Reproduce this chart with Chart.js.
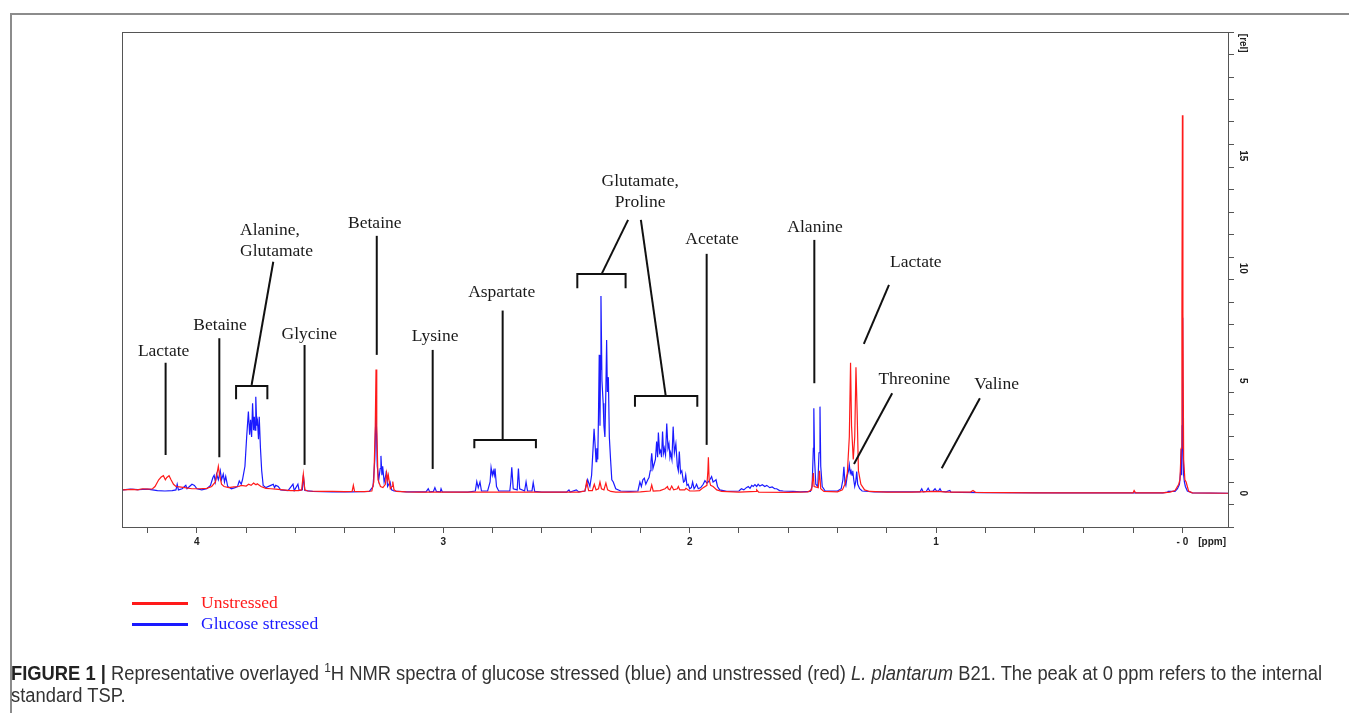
<!DOCTYPE html>
<html>
<head>
<meta charset="utf-8">
<script src="https://cdn.jsdelivr.net/npm/chart.js@4"></script>
<style>
  body { margin: 0; background: #fff; }
  #wrap { position: relative; width: 1349px; height: 713px; overflow: hidden; }
  #frame { position: absolute; left: 10px; top: 13px; right: -5px; bottom: -5px;
           border-top: 2px solid #8c8c8c; border-left: 2px solid #8c8c8c; }
  canvas { position: absolute; left: 0; top: 0; }
  #legend { position: absolute; left: 132px; top: 592px; font: 17.5px "Liberation Serif", "Times New Roman", serif; }
  #legend div { height: 21px; line-height: 21px; white-space: nowrap; }
  #legend span.sw { display: inline-block; width: 56px; height: 3px; vertical-align: middle; margin-right: 13px; }
  #caption { position: absolute; left: 11px; top: 657px; color: #333; white-space: nowrap; transform-origin: 0 0;
             font: 20px/22px "Liberation Sans", Arial, sans-serif; }
  #caption b { color: #222; }
</style>
</head>
<body>
<div id="wrap">
  <div id="frame"></div>
  <canvas id="nmr" width="1349" height="713"></canvas>
  <div id="legend"></div>
  <div id="caption"><span id="cap1"><b>FIGURE 1 |</b> Representative overlayed <sup style="font-size:13px">1</sup>H NMR spectra of glucose stressed (blue) and unstressed (red) <i>L. plantarum</i> B21. The peak at 0 ppm refers to the internal</span><br>standard TSP.</div>
</div>
<script>
// unstressed (red) spectrum, chemical shift [ppm] and intensity [rel]
const unstressedPpm = [
  4.30, 4.26, 4.24, 4.22, 4.20, 4.18, 4.17, 4.155, 4.145, 4.136, 4.128, 4.122, 4.113, 4.105, 4.095, 4.085,
  4.07, 4.05, 4.02, 3.99, 3.96, 3.94, 3.925, 3.918, 3.913, 3.908, 3.90, 3.89, 3.87, 3.85, 3.83, 3.82,
  3.80, 3.79, 3.78, 3.77, 3.76, 3.755, 3.74, 3.72, 3.70, 3.68, 3.65, 3.62, 3.59, 3.575, 3.568, 3.562,
  3.55, 3.50, 3.45, 3.40, 3.37, 3.365, 3.36, 3.32, 3.29, 3.282, 3.276, 3.273, 3.27, 3.265, 3.255, 3.245,
  3.235, 3.23, 3.226, 3.223, 3.215, 3.208, 3.205, 3.20, 3.19, 3.15, 3.10, 2.90, 2.70, 2.45, 2.425, 2.418,
  2.41, 2.395, 2.387, 2.38, 2.37, 2.364, 2.358, 2.348, 2.34, 2.333, 2.32, 2.30, 2.25, 2.20, 2.16, 2.154,
  2.148, 2.12, 2.10, 2.09, 2.087, 2.08, 2.073, 2.065, 2.05, 2.046, 2.04, 2.02, 2.015, 2.00, 1.98, 1.96,
  1.945, 1.93, 1.926, 1.924, 1.921, 1.915, 1.905, 1.89, 1.87, 1.80, 1.73, 1.728, 1.72, 1.60, 1.52, 1.505,
  1.498, 1.495, 1.478, 1.473, 1.468, 1.455, 1.40, 1.38, 1.37, 1.36, 1.352, 1.347, 1.343, 1.336, 1.330, 1.325,
  1.320, 1.315, 1.305, 1.29, 1.27, 1.20, 1.10, 1.00, 0.95, 0.86, 0.85, 0.84, 0.60, 0.20, 0.196, 0.19,
  0.08, 0.05, 0.03, 0.015, 0.01, 0.005, 0.002, 0.0, -0.002, -0.005, -0.01, -0.015, -0.025, -0.04, -0.185
]
const unstressedRel = [
  0.15, 0.17, 0.15, 0.2, 0.18, 0.2, 0.3, 0.6, 0.72, 0.78, 0.6, 0.7, 0.78, 0.6, 0.4, 0.3,
  0.28, 0.25, 0.2, 0.2, 0.22, 0.3, 0.5, 0.9, 1.2, 0.8, 0.4, 0.3, 0.25, 0.28, 0.3, 0.35,
  0.32, 0.4, 0.35, 0.45, 0.38, 0.42, 0.3, 0.22, 0.2, 0.18, 0.15, 0.12, 0.12, 0.15, 0.85, 0.15,
  0.1, 0.08, 0.08, 0.07, 0.08, 0.35, 0.08, 0.07, 0.1, 0.5, 3.0, 5.5, 3.0, 0.6, 0.3, 0.25,
  0.4, 0.9, 0.6, 0.8, 0.2, 0.3, 0.52, 0.15, 0.08, 0.06, 0.05, 0.05, 0.05, 0.05, 0.1, 0.52,
  0.12, 0.12, 0.4, 0.15, 0.2, 0.5, 0.2, 0.15, 0.45, 0.15, 0.08, 0.05, 0.05, 0.06, 0.1, 0.37,
  0.1, 0.12, 0.2, 0.3, 0.2, 0.15, 0.32, 0.15, 0.2, 0.3, 0.15, 0.15, 0.22, 0.1, 0.1, 0.12,
  0.25, 0.35, 1.0, 1.6, 0.6, 0.35, 0.3, 0.15, 0.08, 0.05, 0.08, 0.15, 0.05, 0.04, 0.06, 0.15,
  0.9, 0.3, 0.25, 1.0, 0.2, 0.08, 0.06, 0.15, 0.4, 0.9, 2.5, 5.8, 3.0, 1.5, 2.5, 5.6,
  3.5, 1.0, 0.4, 0.15, 0.08, 0.05, 0.05, 0.08, 0.05, 0.05, 0.12, 0.04, 0.02, 0.02, 0.12, 0.02,
  0.02, 0.05, 0.12, 0.4, 0.6, 2.0, 8.0, 16.8, 8.0, 1.5, 0.6, 0.5, 0.1, 0.02, 0.0
]

// glucose stressed (blue) spectrum
const stressedPpm = [
  4.30, 4.27, 4.24, 4.20, 4.16, 4.13, 4.10, 4.085, 4.08, 4.075, 4.06, 4.045, 4.04, 4.03, 4.02, 4.01,
  4.00, 3.98, 3.96, 3.945, 3.935, 3.93, 3.925, 3.92, 3.913, 3.905, 3.90, 3.893, 3.888, 3.883, 3.875, 3.86,
  3.845, 3.835, 3.828, 3.82, 3.815, 3.805, 3.798, 3.791, 3.786, 3.782, 3.778, 3.774, 3.770, 3.767, 3.764, 3.761,
  3.757, 3.754, 3.750, 3.747, 3.742, 3.737, 3.731, 3.72, 3.70, 3.69, 3.685, 3.68, 3.67, 3.66, 3.63, 3.61,
  3.605, 3.59, 3.585, 3.572, 3.568, 3.562, 3.53, 3.45, 3.37, 3.30, 3.285, 3.278, 3.273, 3.268, 3.262, 3.256,
  3.253, 3.249, 3.246, 3.24, 3.233, 3.231, 3.226, 3.216, 3.21, 3.20, 3.15, 3.07, 3.061, 3.055, 3.04, 3.034,
  3.028, 3.012, 3.009, 3.004, 2.90, 2.87, 2.864, 2.858, 2.851, 2.845, 2.82, 2.81, 2.806, 2.801, 2.797, 2.793,
  2.790, 2.784, 2.775, 2.73, 2.726, 2.722, 2.716, 2.70, 2.695, 2.69, 2.67, 2.664, 2.658, 2.64, 2.635, 2.629,
  2.60, 2.50, 2.49, 2.485, 2.46, 2.45, 2.425, 2.414, 2.405, 2.398, 2.392, 2.388, 2.383, 2.380, 2.377, 2.373,
  2.370, 2.367, 2.364, 2.362, 2.360, 2.356, 2.351, 2.348, 2.344, 2.341, 2.337, 2.334, 2.330, 2.326, 2.321, 2.316,
  2.31, 2.30, 2.28, 2.24, 2.21, 2.202, 2.196, 2.19, 2.184, 2.178, 2.17, 2.165, 2.160, 2.157, 2.154, 2.149,
  2.144, 2.139, 2.134, 2.130, 2.127, 2.122, 2.118, 2.114, 2.110, 2.106, 2.103, 2.098, 2.093, 2.088, 2.084, 2.080,
  2.077, 2.072, 2.067, 2.062, 2.056, 2.050, 2.046, 2.042, 2.037, 2.032, 2.025, 2.020, 2.016, 2.011, 2.006, 2.000,
  1.993, 1.988, 1.982, 1.976, 1.972, 1.965, 1.955, 1.945, 1.938, 1.930, 1.925, 1.918, 1.911, 1.905, 1.898, 1.893,
  1.887, 1.878, 1.85, 1.80, 1.79, 1.78, 1.77, 1.762, 1.755, 1.748, 1.742, 1.735, 1.728, 1.722, 1.715, 1.705,
  1.695, 1.687, 1.675, 1.665, 1.655, 1.647, 1.635, 1.62, 1.58, 1.55, 1.51, 1.503, 1.498, 1.496, 1.493, 1.488,
  1.48, 1.475, 1.471, 1.468, 1.462, 1.45, 1.40, 1.385, 1.378, 1.374, 1.370, 1.366, 1.360, 1.355, 1.352, 1.348,
  1.345, 1.341, 1.338, 1.334, 1.33, 1.326, 1.322, 1.318, 1.310, 1.30, 1.25, 1.10, 1.065, 1.058, 1.052, 1.04,
  1.032, 1.025, 1.012, 1.004, 0.998, 0.99, 0.984, 0.978, 0.96, 0.944, 0.94, 0.90, 0.80, 0.50, 0.20, 0.08,
  0.06, 0.058, 0.03, 0.02, 0.012, 0.007, 0.005, 0.003, 0.001, 0.0, -0.002, -0.005, -0.008, -0.012, -0.02, -0.04,
  -0.185
]
const stressedRel = [
  0.15, 0.18, 0.16, 0.18, 0.12, 0.1, 0.12, 0.15, 0.4, 0.15, 0.2, 0.35, 0.2, 0.3, 0.4, 0.35,
  0.2, 0.15, 0.2, 0.35, 0.7, 0.8, 0.5, 0.85, 0.6, 1.0, 0.6, 0.85, 0.5, 0.75, 0.3, 0.2,
  0.25, 0.3, 0.55, 0.4, 0.6, 1.2, 2.5, 3.63, 2.6, 3.26, 2.5, 4.0, 2.8, 3.4, 2.8, 4.29,
  3.0, 3.2, 2.4, 3.4, 2.0, 1.0, 0.35, 0.25, 0.35, 0.4, 0.25, 0.35, 0.3, 0.15, 0.12, 0.4,
  0.12, 0.4, 0.12, 0.15, 0.8, 0.12, 0.08, 0.06, 0.06, 0.08, 0.3, 1.5, 3.8, 1.2, 0.6, 1.1,
  1.66, 0.8, 1.2, 0.5, 0.8, 1.0, 0.3, 0.5, 0.15, 0.1, 0.06, 0.06, 0.2, 0.06, 0.08, 0.25,
  0.08, 0.06, 0.2, 0.06, 0.05, 0.1, 0.52, 0.25, 0.5, 0.1, 0.1, 0.5, 1.14, 0.8, 1.0, 0.8,
  1.1, 0.3, 0.1, 0.1, 0.5, 1.15, 0.2, 0.15, 1.1, 0.2, 0.1, 0.5, 0.1, 0.1, 0.47, 0.08,
  0.05, 0.05, 0.15, 0.05, 0.15, 0.06, 0.1, 0.6, 0.3, 0.8, 2.0, 2.86, 2.0, 1.4, 2.0, 1.5,
  3.5, 6.15, 3.0, 5.5, 8.77, 5.0, 4.0, 3.0, 2.5, 4.0, 6.81, 4.5, 5.16, 2.5, 1.5, 0.6,
  0.5, 0.2, 0.1, 0.08, 0.1, 0.5, 0.3, 0.6, 0.67, 0.4, 0.6, 0.7, 1.0, 1.4, 1.78, 1.1,
  1.3, 1.5, 2.3, 1.6, 2.7, 1.8, 1.9, 1.6, 2.74, 1.8, 2.0, 1.7, 3.1, 2.0, 2.2, 1.6,
  1.8, 1.5, 2.96, 1.8, 2.2, 1.2, 1.0, 1.85, 0.9, 1.0, 0.5, 0.55, 0.81, 0.35, 0.4, 0.2,
  0.25, 0.5, 0.2, 0.3, 0.4, 0.2, 0.25, 0.4, 0.56, 0.45, 0.5, 0.6, 0.74, 0.5, 0.55, 0.6,
  0.3, 0.15, 0.08, 0.1, 0.2, 0.15, 0.25, 0.3, 0.22, 0.35, 0.3, 0.38, 0.3, 0.4, 0.32, 0.38,
  0.3, 0.35, 0.25, 0.28, 0.2, 0.2, 0.12, 0.1, 0.08, 0.06, 0.08, 0.3, 2.0, 3.78, 1.5, 0.4,
  0.3, 1.8, 3.85, 1.2, 0.3, 0.1, 0.1, 0.2, 0.6, 1.18, 0.5, 0.35, 0.8, 1.0, 1.26, 0.9,
  1.0, 0.8, 1.0, 0.6, 0.3, 0.5, 0.96, 0.4, 0.2, 0.1, 0.06, 0.06, 0.06, 0.2, 0.06, 0.08,
  0.22, 0.08, 0.1, 0.2, 0.1, 0.1, 0.2, 0.08, 0.06, 0.12, 0.05, 0.04, 0.03, 0.02, 0.02, 0.02,
  0.05, 0.08, 0.08, 0.2, 0.4, 1.0, 1.97, 0.8, 3.0, 7.8, 3.0, 0.8, 0.5, 0.3, 0.1, 0.02,
  0.0
]

// axis ticks
const yTickValues = [0, 5, 10, 15, 20]
const yTickLabels = ['0', '5', '10', '15', '[rel]']

// peak assignments: label text, label anchor and leader lines, all in [ppm, rel]
const peakLabels = [
  { text: ['Lactate'], at: [4.135, 6.29], lines: [[[4.127, 5.80], [4.127, 1.70]]] },
  { text: ['Betaine'], at: [3.906, 7.44], lines: [[[3.909, 6.89], [3.909, 1.60]]] },
  { text: ['Alanine,', 'Glutamate'], at: [3.825, 11.70], align: 'left',
    lines: [[[3.690, 10.29], [3.778, 4.81]], [[3.841, 4.18], [3.841, 4.77], [3.714, 4.77], [3.714, 4.18]]] },
  { text: ['Glycine'], at: [3.544, 7.08], lines: [[[3.563, 6.59], [3.563, 1.26]]] },
  { text: ['Betaine'], at: [3.278, 12.0], lines: [[[3.270, 11.44], [3.270, 6.15]]] },
  { text: ['Lysine'], at: [3.033, 6.99], lines: [[[3.043, 6.37], [3.043, 1.08]]] },
  { text: ['Aspartate'], at: [2.763, 8.92],
    lines: [[[2.759, 8.12], [2.759, 2.37]], [[2.874, 2.0], [2.874, 2.37], [2.624, 2.37], [2.624, 2.0]]] },
  { text: ['Glutamate,', 'Proline'], at: [2.201, 13.84],
    lines: [[[2.250, 12.15], [2.357, 9.75]], [[2.456, 9.11], [2.456, 9.75], [2.260, 9.75], [2.260, 9.11]],
            [[2.198, 12.15], [2.097, 4.32]], [[2.222, 3.85], [2.222, 4.32], [1.969, 4.32], [1.969, 3.85]]] },
  { text: ['Acetate'], at: [1.909, 11.3], lines: [[[1.931, 10.64], [1.931, 2.15]]] },
  { text: ['Alanine'], at: [1.491, 11.8], lines: [[[1.494, 11.26], [1.494, 4.89]]] },
  { text: ['Lactate'], at: [1.082, 10.28], lines: [[[1.191, 9.26], [1.293, 6.64]]] },
  { text: ['Threonine'], at: [1.088, 5.04], lines: [[[1.178, 4.44], [1.333, 1.30]]] },
  { text: ['Valine'], at: [0.754, 4.82], lines: [[[0.822, 4.22], [0.977, 1.11]]] }
]

const toPoints = (xs, ys) => xs.map((x, i) => ({ x, y: ys[i] }))

const nmrDecor = {
  id: 'nmrDecor',
  afterDraw(chart) {
    const { ctx, chartArea: a, scales: { x, y } } = chart
    ctx.save()
    // plot box
    ctx.strokeStyle = '#555'
    ctx.lineWidth = 1
    ctx.strokeRect(a.left + 0.5, a.top + 0.5, a.right - a.left, a.bottom - a.top)

    // rotated y labels on the right
    ctx.fillStyle = '#222'
    ctx.font = 'bold 10px "Liberation Sans", Arial, sans-serif'
    ctx.textAlign = 'center'
    ctx.textBaseline = 'middle'
    yTickValues.forEach((v, i) => {
      ctx.save()
      ctx.translate(a.right + 15, y.getPixelForValue(v))
      ctx.rotate(Math.PI / 2)
      ctx.fillText(yTickLabels[i], 0, 0)
      ctx.restore()
    })
    // [ppm] unit next to the x labels
    ctx.textAlign = 'right'
    ctx.fillText('[ppm]', a.right - 2, a.bottom + 15)

    // peak assignments
    ctx.strokeStyle = '#111'
    ctx.lineWidth = 2
    peakLabels.forEach(p => {
      p.lines.forEach(seg => {
        ctx.beginPath()
        seg.forEach(([px, py], k) => {
          const X = x.getPixelForValue(px), Y = y.getPixelForValue(py)
          k ? ctx.lineTo(X, Y) : ctx.moveTo(X, Y)
        })
        ctx.stroke()
      })
      ctx.fillStyle = '#1a1a1a'
      ctx.font = '17.5px "Liberation Serif", "Times New Roman", serif'
      ctx.textAlign = p.align || 'center'
      ctx.textBaseline = 'middle'
      const X = x.getPixelForValue(p.at[0]), Y = y.getPixelForValue(p.at[1])
      p.text.forEach((t, k) => ctx.fillText(t, X, Y + k * 21))
    })
    ctx.restore()
  }
}

const chart = new Chart(document.getElementById('nmr'), {
  type: 'line',
  data: {
    datasets: [
      { label: 'Unstressed', data: toPoints(unstressedPpm, unstressedRel), borderColor: '#ff1a1a',
        borderWidth: 1.2, pointRadius: 0, tension: 0 },
      { label: 'Glucose stressed', data: toPoints(stressedPpm, stressedRel), borderColor: '#1a1aff',
        borderWidth: 1.2, pointRadius: 0, tension: 0 }
    ]
  },
  options: {
    responsive: false,
    animation: false,
    layout: { padding: { left: 122, top: 32, right: 0, bottom: 156 } },
    plugins: { legend: { display: false }, tooltip: { enabled: false } },
    scales: {
      x: {
        type: 'linear', reverse: true, min: -0.185, max: 4.304,
        grid: { drawOnChartArea: false, tickLength: 6, tickColor: '#555' },
        border: { display: false },
        ticks: {
          stepSize: 0.2, includeBounds: false, autoSkip: false, maxRotation: 0, padding: 3,
          color: '#222', font: { family: '"Liberation Sans", Arial, sans-serif', weight: 'bold', size: 10 },
          callback: v => {
            const r = Math.round(v * 10) / 10
            if (Math.abs(r - Math.round(r)) > 1e-6) return ''
            return Math.round(r) === 0 ? '- 0' : String(Math.round(r))
          }
        },
        afterFit: s => { s.height = 30 }
      },
      y: {
        position: 'right', min: -1.5, max: 20.5,
        grid: { drawOnChartArea: false, tickLength: 6, tickColor: '#555' },
        border: { display: false },
        ticks: { stepSize: 1, includeBounds: false, callback: () => '' },
        afterFit: s => { s.width = 121 }
      }
    }
  },
  plugins: [nmrDecor]
})

// legend built from the datasets
document.getElementById('legend').innerHTML = chart.data.datasets.map(d =>
  `<div style="color:${d.borderColor}"><span class="sw" style="background:${d.borderColor}"></span>${d.label}</div>`
).join('')

// the caption font is condensed: squeeze the first line to the printed width
const cap = document.getElementById('caption')
const w = document.getElementById('cap1').getBoundingClientRect().width
cap.style.transform = `scaleX(${1311 / w})`
</script>
</body>
</html>
